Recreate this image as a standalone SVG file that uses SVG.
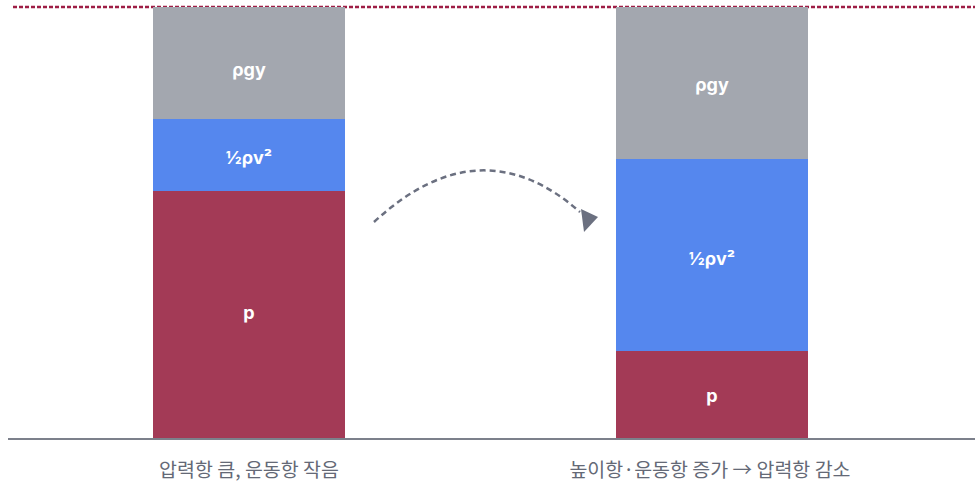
<svg xmlns="http://www.w3.org/2000/svg" width="975" height="489" viewBox="0 0 975 489">
  <style>
    .gy { fill: #a3a7af; }
    .kin { fill: #5587ee; }
    .pr { fill: #a33a56; }
    .term { font-family: Inter, "Noto Sans", "Noto Sans CJK KR", sans-serif; font-size: 18px; font-weight: 700; fill: #ffffff; text-anchor: middle; }
    .cap { font-family: "Noto Sans CJK KR", "Noto Sans", sans-serif; font-size: 19.5px; fill: #646976; text-anchor: middle; }
  </style>

  <!-- common head level -->
  <line x1="13" y1="7" x2="975" y2="7" stroke="#9e1e45" stroke-width="2.5" stroke-dasharray="4 2"/>

  <!-- ground line -->
  <line x1="8" y1="439" x2="975" y2="439" stroke="#7c808b" stroke-width="2"/>

  <g id="bar-left">
    <rect class="gy" x="153" y="7" width="192" height="112"/>
    <rect class="kin" x="153" y="119" width="192" height="72"/>
    <rect class="pr" x="153" y="191" width="192" height="247"/>
    <text class="term" x="249" y="76">ρgy</text>
    <text class="term" x="249" y="164">½ρv²</text>
    <text class="term" x="249" y="319">p</text>
    <text class="cap" x="249" y="477">압력항 큼, 운동항 작음</text>
  </g>

  <g id="bar-right">
    <rect class="gy" x="616" y="7" width="192" height="152"/>
    <rect class="kin" x="616" y="159" width="192" height="192"/>
    <rect class="pr" x="616" y="351" width="192" height="87"/>
    <text class="term" x="712" y="91">ρgy</text>
    <text class="term" x="712" y="265">½ρv²</text>
    <text class="term" x="712" y="402">p</text>
    <text class="cap" x="710" y="477">높이항·운동항 증가 → 압력항 감소</text>
  </g>

  <g id="connectors">
    <path d="M374,222 Q480,124 580,212" fill="none" stroke="#6b7080" stroke-width="2.5" stroke-dasharray="6 4"/>
    <polygon points="581,209 598,217 584,232" fill="#6b7080"/>
  </g>
</svg>
